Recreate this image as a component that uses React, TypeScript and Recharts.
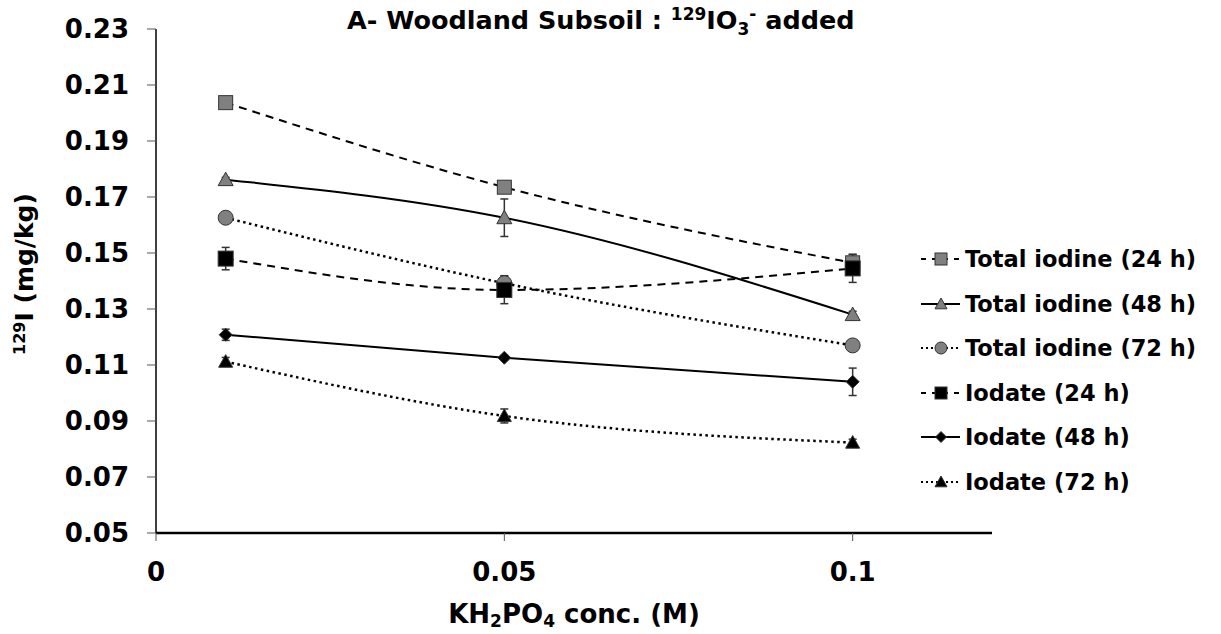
import React from 'react';
import { LineChart, Line, XAxis, YAxis, ErrorBar } from 'recharts';

const concentrations = [0.01, 0.05, 0.1];

const total24 = [0.2037, 0.1735, 0.1465];
const total24Err = [0.0012, 0.0012, 0.003];
const total48 = [0.1762, 0.1626, 0.128];
const total48Err = [0.0008, 0.0067, 0.0012];
const total72 = [0.1626, 0.1392, 0.117];
const total72Err = [0.0008, 0.0027, 0.0008];
const iodate24 = [0.148, 0.1368, 0.1445];
const iodate24Err = [0.004, 0.0049, 0.005];
const iodate48 = [0.1208, 0.1126, 0.104];
const iodate48Err = [0.002, 0.0008, 0.0049];
const iodate72 = [0.1112, 0.0918, 0.0823];
const iodate72Err = [0.0015, 0.0025, 0.0012];

const xTicks = [0, 0.05, 0.1];
const yTicks = [0.05, 0.07, 0.09, 0.11, 0.13, 0.15, 0.17, 0.19, 0.21, 0.23];

const FONT = '"DejaVu Sans", Verdana, sans-serif';
const GREY = '#808080';
const EDGE = '#333333';

const data = concentrations.map((x, i) => ({
  x,
  t24: total24[i], t24e: total24Err[i],
  t48: total48[i], t48e: total48Err[i],
  t72: total72[i], t72e: total72Err[i],
  i24: iodate24[i], i24e: iodate24Err[i],
  i48: iodate48[i], i48e: iodate48Err[i],
  i72: iodate72[i], i72e: iodate72Err[i],
}));

type Shape = 'square' | 'triangle' | 'circle' | 'diamond';

function marker(shape: Shape, fill: string, cx: number, cy: number, s: number, key?: any) {
  const h = s / 2;
  if (shape === 'square') {
    return <rect key={key} x={cx - h} y={cy - h} width={s} height={s} fill={fill} stroke={EDGE} strokeWidth={1} />;
  }
  if (shape === 'circle') {
    return <circle key={key} cx={cx} cy={cy} r={h} fill={fill} stroke={EDGE} strokeWidth={1} />;
  }
  if (shape === 'diamond') {
    return <polygon key={key} points={`${cx},${cy - h} ${cx + h},${cy} ${cx},${cy + h} ${cx - h},${cy}`} fill={fill} stroke={EDGE} strokeWidth={1} />;
  }
  return <polygon key={key} points={`${cx},${cy - h} ${cx + h},${cy + h * 0.8} ${cx - h},${cy + h * 0.8}`} fill={fill} stroke={EDGE} strokeWidth={1} />;
}

const DASH = '8 6';
const DOT = '2.5 3.5';

const series = [
  { key: 't24', name: 'Total iodine (24 h)', shape: 'square' as Shape, fill: GREY, dash: DASH, size: 14 },
  { key: 't48', name: 'Total iodine (48 h)', shape: 'triangle' as Shape, fill: GREY, dash: undefined, size: 15 },
  { key: 't72', name: 'Total iodine (72 h)', shape: 'circle' as Shape, fill: GREY, dash: DOT, size: 15 },
  { key: 'i24', name: 'Iodate (24 h)', shape: 'square' as Shape, fill: '#000', dash: DASH, size: 15 },
  { key: 'i48', name: 'Iodate (48 h)', shape: 'diamond' as Shape, fill: '#000', dash: undefined, size: 13 },
  { key: 'i72', name: 'Iodate (72 h)', shape: 'triangle' as Shape, fill: '#000', dash: DOT, size: 14 },
];

const LegendBox = () => (
  <div style={{ position: 'absolute', left: 920, top: 237, fontFamily: FONT, fontWeight: 'bold', fontSize: 22.5, color: '#000', whiteSpace: 'nowrap' }}>
    {series.map((s) => (
      <div key={s.key} style={{ display: 'flex', alignItems: 'center', height: 44.5 }}>
        <svg width={42} height={20} style={{ marginRight: 3 }}>
          <line x1={1} y1={10} x2={40} y2={10} stroke="#000" strokeWidth={2} strokeDasharray={s.dash ? (s.dash === DASH ? '5 6' : '2 3') : undefined} />
          {marker(s.shape, s.fill, 21, 10, s.shape === 'diamond' ? 11 : 12)}
        </svg>
        <span>{s.name}</span>
      </div>
    ))}
  </div>
);

const renderXLabel = () => (
  <text x={574} y={623} textAnchor="middle" fontFamily={FONT} fontWeight="bold" fontSize={26} fill="#000">
    KH<tspan fontSize={17} dy={4}>2</tspan><tspan dy={-4}>PO</tspan><tspan fontSize={17} dy={4}>4</tspan><tspan dy={-4}> conc. (M)</tspan>
  </text>
);

const renderYLabel = () => (
  <text x={0} y={0} transform="translate(33,274) rotate(-90)" textAnchor="middle" fontFamily={FONT} fontWeight="bold" fontSize={25} fill="#000">
    <tspan fontSize={16} dy={-8}>129</tspan><tspan dy={8}>I (mg/kg)</tspan>
  </text>
);

export default function App() {
  return (
    <div style={{ position: 'absolute', left: 0, top: 0, width: 1221, height: 634, background: '#fff' }}>
      <div style={{ position: 'absolute', left: 347, top: 5, fontFamily: FONT, fontWeight: 'bold', fontSize: 25.5, color: '#000', zIndex: 2, whiteSpace: 'nowrap', lineHeight: '30px' }}>
        A- Woodland Subsoil : <sup style={{ fontSize: 17, lineHeight: 0 }}>129</sup>IO<sub style={{ fontSize: 17, lineHeight: 0 }}>3</sub><sup style={{ fontSize: 17, lineHeight: 0 }}>-</sup> added
      </div>
      <LineChart width={1221} height={634} data={data} margin={{ top: 29, right: 229, left: 56, bottom: 41 }}>
        <XAxis
          dataKey="x"
          type="number"
          domain={[0, 0.12]}
          ticks={xTicks}
          tickFormatter={(v: number) => String(v)}
          height={60}
          axisLine={{ stroke: '#000', strokeWidth: 2.5 }}
          tickLine={{ stroke: '#555' }}
          tickSize={8}
          tickMargin={22}
          tick={{ fill: '#000', fontSize: 26, fontWeight: 'bold', fontFamily: FONT }}
          label={{ content: renderXLabel }}
        />
        <YAxis
          type="number"
          domain={[0.05, 0.23]}
          ticks={yTicks}
          interval={0}
          tickFormatter={(v: number) => v.toFixed(2)}
          width={100}
          axisLine={{ stroke: '#000', strokeWidth: 1.5 }}
          tickLine={{ stroke: '#555' }}
          tickSize={9}
          tickMargin={18}
          tick={{ fill: '#000', fontSize: 26, fontWeight: 'bold', fontFamily: FONT }}
          label={{ content: renderYLabel }}
        />
        {series.map((s) => (
          <Line
            key={s.key}
            dataKey={s.key}
            name={s.name}
            type="monotone"
            stroke="#000"
            strokeWidth={s.dash === DOT ? 2.5 : 2}
            strokeDasharray={s.dash}
            isAnimationActive={false}
            dot={(p: any) => marker(s.shape, s.fill, p.cx, p.cy, s.size, `${s.key}-${p.index}`)}
            activeDot={false}
          >
            <ErrorBar dataKey={`${s.key}e`} width={4} stroke="#333" strokeWidth={1.5} direction="y" />
          </Line>
        ))}
      </LineChart>
      <LegendBox />
    </div>
  );
}
